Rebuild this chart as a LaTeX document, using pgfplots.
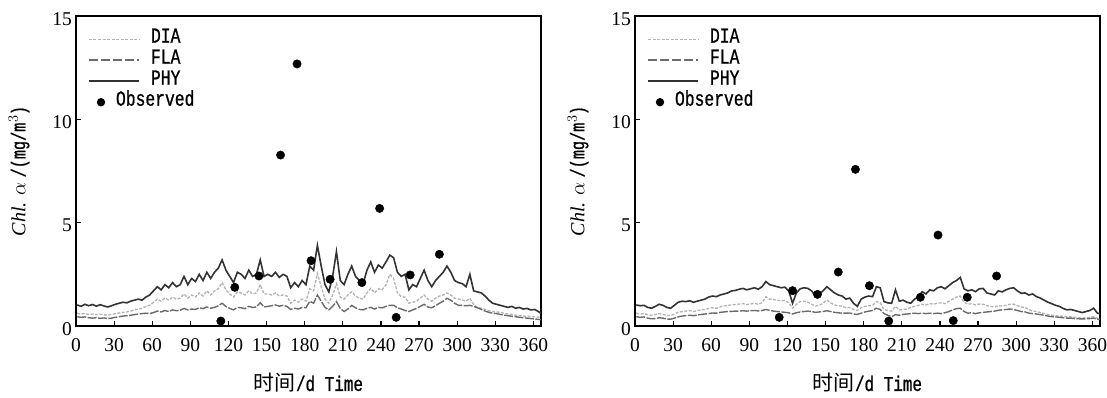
\documentclass[border=0pt]{standalone}
\usepackage{fontspec}
\setmainfont{Liberation Serif}
\newfontfamily\monofont[FakeStretch=0.76, FakeBold=0.8]{Liberation Mono}
\newfontfamily\cjk{Noto Sans CJK SC}
\usepackage{pgfplots}
\pgfplotsset{compat=1.18}
\usepackage{pgfplotstable}

\pgfplotstableread{
d dia fla phy
1 0.62 0.45 1.02
4 0.58 0.42 0.95
7 0.60 0.44 1.05
10 0.56 0.40 0.98
13 0.58 0.38 1.04
16 0.55 0.40 0.96
19 0.57 0.37 1.03
22 0.54 0.39 0.97
25 0.53 0.36 0.92
28 0.56 0.38 0.98
31 0.60 0.42 1.05
34 0.63 0.45 1.10
37 0.66 0.48 1.15
40 0.68 0.50 1.12
43 0.72 0.52 1.20
46 0.78 0.55 1.25
49 0.82 0.58 1.30
52 0.85 0.60 1.25
55 0.95 0.62 1.40
58 1.00 0.60 1.50
61 1.15 0.65 1.70
64 1.30 0.72 1.90
67 1.20 0.68 1.75
70 1.35 0.75 2.00
73 1.25 0.70 1.85
76 1.40 0.78 2.10
79 1.30 0.74 1.90
82 1.35 0.76 2.00
85 1.55 0.85 2.40
88 1.35 0.78 2.00
91 1.50 0.82 2.30
94 1.40 0.80 2.15
97 1.60 0.88 2.50
100 1.45 0.84 2.20
103 1.70 0.92 2.60
106 1.50 0.86 2.30
109 1.70 0.90 2.60
112 1.80 0.98 2.80
115 2.10 1.10 3.20
118 1.75 0.95 2.70
121 1.55 0.85 2.40
124 1.40 0.78 2.10
127 1.65 0.90 2.60
130 1.60 0.88 2.50
133 1.50 0.84 2.30
136 1.70 0.95 2.70
139 1.55 0.90 2.40
142 1.60 0.92 2.50
145 2.00 1.13 3.20
148 1.55 0.92 2.40
151 1.55 0.95 2.50
154 1.50 0.98 2.40
157 1.60 1.02 2.60
160 1.45 0.96 2.35
163 1.50 1.00 2.50
166 1.45 0.95 2.40
169 1.10 0.80 1.85
172 1.25 0.86 2.10
175 1.15 0.82 1.90
178 1.30 0.90 2.20
181 1.20 0.88 2.00
184 1.80 1.20 2.90
187 1.70 1.10 2.70
190 2.55 1.50 3.90
193 1.90 1.20 2.90
196 1.30 0.90 2.00
199 1.10 0.78 1.65
202 1.50 0.95 2.40
205 2.05 1.18 3.60
208 1.40 0.85 2.20
211 1.30 0.70 2.00
214 1.50 0.82 2.50
217 1.66 1.00 2.90
220 1.45 0.88 2.40
223 1.35 0.80 2.20
226 1.30 0.78 2.05
229 1.60 0.86 2.70
232 1.82 0.90 3.10
235 1.60 0.82 2.60
238 1.80 0.90 2.95
241 1.75 0.88 2.80
244 2.00 0.95 3.10
247 2.50 1.00 3.43
250 2.30 1.00 3.30
253 1.60 0.88 2.60
256 1.42 0.82 2.40
259 1.40 0.75 2.50
262 1.10 0.70 1.75
265 1.15 0.78 2.00
268 1.20 0.85 1.90
271 1.35 0.95 2.30
274 1.50 1.05 2.70
277 1.30 0.92 2.20
280 1.20 0.88 1.90
283 1.35 0.98 2.20
286 1.45 1.10 2.40
289 1.50 1.20 2.60
292 1.60 1.34 2.90
295 1.50 1.25 2.60
298 1.35 1.10 2.20
301 1.30 1.00 2.10
304 1.26 1.00 2.05
307 1.20 0.98 1.90
310 1.34 1.00 2.50
313 1.05 0.95 1.70
316 0.90 0.88 1.65
319 0.86 0.80 1.60
322 0.80 0.72 1.45
325 0.74 0.66 1.25
328 0.70 0.62 1.10
331 0.68 0.60 1.05
334 0.66 0.56 1.00
337 0.62 0.52 0.95
340 0.58 0.50 0.90
343 0.56 0.47 0.95
346 0.52 0.45 0.86
349 0.50 0.42 0.90
352 0.48 0.40 0.82
355 0.47 0.38 0.85
358 0.46 0.36 0.78
361 0.45 0.34 0.80
364 0.43 0.32 0.70
366 0.42 0.30 0.60
}\leftdata

\pgfplotstableread{
d dia fla phy
1 0.62 0.45 1.02
4 0.58 0.42 0.98
7 0.60 0.44 1.00
10 0.55 0.38 0.90
13 0.52 0.35 0.86
16 0.55 0.36 0.95
19 0.60 0.40 1.05
22 0.56 0.38 1.00
25 0.52 0.34 0.90
28 0.50 0.33 0.86
31 0.58 0.38 1.00
34 0.66 0.44 1.15
37 0.70 0.48 1.20
40 0.72 0.50 1.18
43 0.75 0.52 1.22
46 0.70 0.50 1.15
49 0.74 0.53 1.20
52 0.78 0.56 1.25
55 0.80 0.58 1.30
58 0.85 0.60 1.40
61 0.88 0.63 1.45
64 0.86 0.62 1.42
67 0.92 0.66 1.50
70 0.98 0.68 1.55
73 1.00 0.70 1.60
76 1.02 0.71 1.70
79 1.04 0.72 1.72
82 1.06 0.72 1.78
85 1.08 0.74 1.82
88 1.04 0.72 1.75
91 1.06 0.74 1.80
94 1.10 0.75 1.85
97 1.05 0.73 1.78
100 1.13 0.75 1.90
103 1.42 0.80 2.15
106 1.30 0.76 2.00
109 1.28 0.72 1.95
112 1.25 0.70 1.90
115 1.22 0.68 1.85
118 1.24 0.66 1.88
121 1.12 0.64 1.70
124 0.86 0.58 1.10
127 1.05 0.64 1.60
130 1.18 0.68 1.80
133 1.20 0.70 1.85
136 1.15 0.72 1.82
139 1.05 0.70 1.70
142 0.97 0.66 1.45
145 1.00 0.68 1.55
148 1.10 0.70 1.70
151 1.26 0.74 1.90
154 1.12 0.70 1.75
157 1.02 0.66 1.60
160 0.98 0.64 1.50
163 0.96 0.62 1.45
166 0.88 0.62 1.30
169 0.90 0.63 1.35
172 0.80 0.58 1.10
175 0.75 0.56 0.95
178 0.88 0.62 1.30
181 0.95 0.68 1.40
184 0.98 0.72 1.45
187 1.00 0.75 1.42
190 1.18 0.86 1.90
193 1.12 0.80 1.85
196 0.80 0.60 1.18
199 0.75 0.52 1.12
202 0.72 0.45 1.10
205 0.95 0.55 1.75
208 0.78 0.52 1.20
211 0.80 0.56 1.25
214 0.82 0.58 1.15
217 0.90 0.60 1.10
220 0.95 0.62 1.30
223 1.00 0.60 1.40
226 1.05 0.62 1.66
229 1.02 0.60 1.55
232 1.08 0.62 1.75
235 1.06 0.60 1.70
238 1.10 0.62 1.85
241 1.12 0.60 1.90
244 1.08 0.64 1.80
247 1.20 0.70 1.95
250 1.30 0.78 2.10
253 1.40 0.84 2.20
256 1.45 0.86 2.35
259 1.15 0.70 1.80
262 1.05 0.62 1.70
265 1.08 0.64 1.75
268 1.02 0.60 1.66
271 1.06 0.64 1.80
274 1.05 0.66 1.82
277 0.98 0.68 1.60
280 0.95 0.70 1.55
283 0.92 0.72 1.50
286 0.98 0.76 1.70
289 0.96 0.78 1.65
292 1.00 0.80 1.75
295 1.05 0.82 1.82
298 1.06 0.80 1.85
301 0.98 0.75 1.70
304 0.92 0.70 1.58
307 0.90 0.68 1.60
310 0.80 0.62 1.50
313 0.72 0.60 1.55
316 0.70 0.58 1.42
319 0.65 0.55 1.35
322 0.60 0.52 1.25
325 0.56 0.48 1.15
328 0.52 0.45 1.08
331 0.50 0.44 1.00
334 0.48 0.42 0.95
337 0.46 0.40 0.85
340 0.45 0.38 0.78
343 0.44 0.38 0.80
346 0.42 0.36 0.75
349 0.40 0.35 0.70
352 0.38 0.34 0.65
355 0.40 0.35 0.70
358 0.42 0.36 0.75
361 0.45 0.38 0.86
364 0.37 0.33 0.62
366 0.35 0.32 0.60
}\rightdata

\pgfplotstableread{
d obs
114 0.24
125 1.87
144 2.42
161 8.27
174 12.68
185 3.16
200 2.26
225 2.10
239 5.69
252 0.42
263 2.47
286 3.47
}\leftobs

\pgfplotstableread{
d obs
113.5 0.42
124 1.71
143.6 1.53
160 2.61
173.5 7.58
184.5 1.95
199.7 0.24
224.6 1.39
238.5 4.40
250.5 0.26
261.5 1.39
284.6 2.42
}\rightobs

\pgfplotsset{
  chl/.style={
    scale only axis, width=465pt, height=310pt,
    xmin=0, xmax=366, ymin=0, ymax=15,
    xtick={0,30,...,360}, ytick={0,5,10,15},
    tick align=inside, xtick pos=bottom, ytick pos=left,
    major tick length=5pt,
    axis line style={line width=1.6pt},
    every tick/.style={line width=1.2pt, black},
    tick label style={font=\fontsize{19.5}{20}\selectfont},
    /pgf/number format/assume math mode=true,
    xticklabel style={inner sep=0pt, yshift=-12pt},
    yticklabel style={inner sep=0pt, xshift=-4pt, yshift=-3pt},
    xlabel={{\cjk 时间}{\monofont /d Time}},
    xlabel style={at={(axis description cs:0.5,0)}, anchor=center, yshift=-57pt, font=\fontsize{21}{22}\selectfont},
    ylabel={{\itshape Chl.} $\alpha$ {\monofont/(mg/m$^3$)}},
    ylabel style={at={([xshift=-57pt]axis description cs:0,0.5)}, anchor=center, font=\fontsize{20}{22}\selectfont},
    legend cell align=left,
    legend style={at={(axis description cs:0,1)}, anchor=north west, xshift=12pt, yshift=-12.5pt,
      draw=none, fill=none, inner sep=0pt, row sep=0pt, column sep=0pt,
      font=\monofont\fontsize{21.5}{22}\selectfont,
      nodes={inner sep=0pt, text height=14pt, text depth=7pt}},
  },
  diast/.style={color=black!30, line width=1.3pt, dash pattern=on 3pt off 1.5pt,
    legend image code/.code={\draw[##1] (0pt,0pt) -- (50pt,0pt); \path[draw=none, fill=none] (0pt,0pt) -- (62pt,0pt);}},
  flast/.style={color=black!58, line width=1.4pt, dash pattern=on 9pt off 1.5pt,
    legend image code/.code={\draw[##1, dash pattern=on 9pt off 3pt] (0pt,0pt) -- (50pt,0pt); \path[draw=none, fill=none] (0pt,0pt) -- (62pt,0pt);}},
  physt/.style={color=black!80, line width=1.6pt,
    legend image code/.code={\draw[##1] (0pt,0pt) -- (50pt,0pt); \path[draw=none, fill=none] (0pt,0pt) -- (62pt,0pt);}},
  obsst/.style={only marks, mark=*, mark size=4.2pt, color=black,
    legend image code/.code={\fill[black, draw=none] (12pt,0pt) circle (4.2pt); \path[draw=none, fill=none] (0pt,0pt) -- (62pt,0pt);}},
}

\begin{document}
\begin{tikzpicture}
\useasboundingbox (-76pt,-72pt) rectangle (1031pt,326pt);
\begin{axis}[chl, at={(0pt,0pt)}, anchor=south west]
\addplot[diast] table[x=d, y=dia] {\leftdata};
\addlegendentry{DIA}
\addplot[flast] table[x=d, y=fla] {\leftdata};
\addlegendentry{FLA}
\addplot[physt] table[x=d, y=phy] {\leftdata};
\addlegendentry{PHY}
\addplot[obsst] table[x=d, y=obs] {\leftobs};
\addlegendentry{\hspace*{-35pt}Observed}
\end{axis}
\begin{axis}[chl, at={(559pt,0pt)}, anchor=south west]
\addplot[diast] table[x=d, y=dia] {\rightdata};
\addlegendentry{DIA}
\addplot[flast] table[x=d, y=fla] {\rightdata};
\addlegendentry{FLA}
\addplot[physt] table[x=d, y=phy] {\rightdata};
\addlegendentry{PHY}
\addplot[obsst] table[x=d, y=obs] {\rightobs};
\addlegendentry{\hspace*{-35pt}Observed}
\end{axis}
\end{tikzpicture}
\end{document}
